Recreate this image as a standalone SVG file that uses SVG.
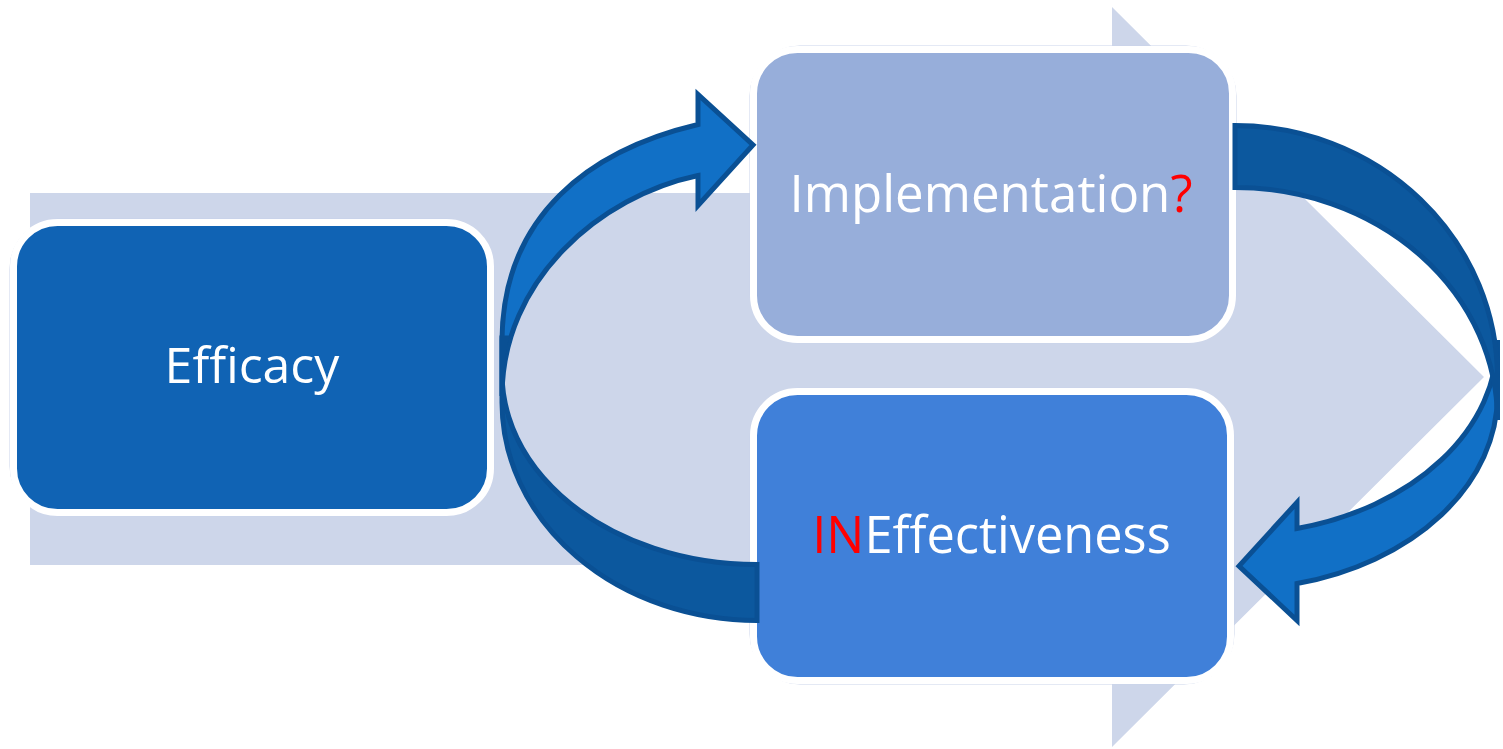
<svg xmlns="http://www.w3.org/2000/svg" width="1503" height="749" viewBox="0 0 1503 749">
  <style>
    .halo { fill: none; stroke: #C9D3EA; stroke-width: 1; }
    .box { stroke: #FFFFFF; stroke-width: 7; }
    .label { font-family: "Open Sans", "Noto Sans", "DejaVu Sans", sans-serif; font-size: 50px; fill: #FFFFFF; text-anchor: middle; }
    .red { fill: #FF0000; }
    .front { fill: #1170C6; stroke: #0A5094; stroke-width: 5; stroke-linejoin: miter; }
    .back { fill: #0C589E; stroke: #0A5094; stroke-width: 5; stroke-linejoin: miter; }
  </style>
  <rect width="1503" height="749" fill="#FFFFFF"/>
  <g id="background-arrow">
    <polygon points="30,193 1112,193 1112,7 1484,377 1112,747 1112,565 30,565" fill="#CDD6EA"/>
  </g>
  <g id="node-efficacy">
    <rect class="halo" x="10" y="218.5" width="484" height="297.5" rx="50"/>
    <rect class="box" x="13.5" y="222.5" width="477" height="290" rx="44" fill="#1063B4"/>
    <text class="label" x="252" y="383">Efficacy</text>
  </g>
  <g id="node-implementation">
    <rect class="halo" x="750" y="46" width="486" height="297" rx="50"/>
    <rect class="box" x="753.5" y="49.5" width="479" height="290" rx="44" fill="#97AEDA"/>
    <text class="label" x="991" y="212" style="font-size:51px">Implementation<tspan class="red">?</tspan></text>
  </g>
  <g id="node-ineffectiveness">
    <rect class="halo" x="750" y="388" width="484" height="296" rx="50"/>
    <rect class="box" x="753.5" y="391.5" width="477" height="289" rx="44" fill="#4080D9"/>
    <text class="label" x="991.5" y="553" style="font-size:50.5px"><tspan class="red">IN</tspan>Effectiveness</text>
  </g>
  <g id="connectors">
    <path class="front" d="M 698,124.5 C 590,150 503,215 502,340 L 502,396 C 502,280 600,196 698,175.5 L 698,205.5 L 753,145 L 698,94.5 Z"/>
    <path class="back" d="M 757,620.5 A 255 218 0 0 1 502,402.5 L 502,338 L 506.5,338 A 255 191 0 0 0 757,564.5 Z"/>
    <path class="front" d="M 1497.5,395 A 262.5 194 0 0 1 1297,583.5 L 1297,620.5 L 1239,566 L 1297,502.5 L 1297,528.5 A 262.5 194 0 0 0 1497.5,340 Z"/>
    <path class="back" d="M 1235,125.5 A 262.5 252.5 0 0 1 1497.5,378 L 1497.5,420 A 262.5 232.5 0 0 0 1235,187.5 Z"/>
  </g>
</svg>
